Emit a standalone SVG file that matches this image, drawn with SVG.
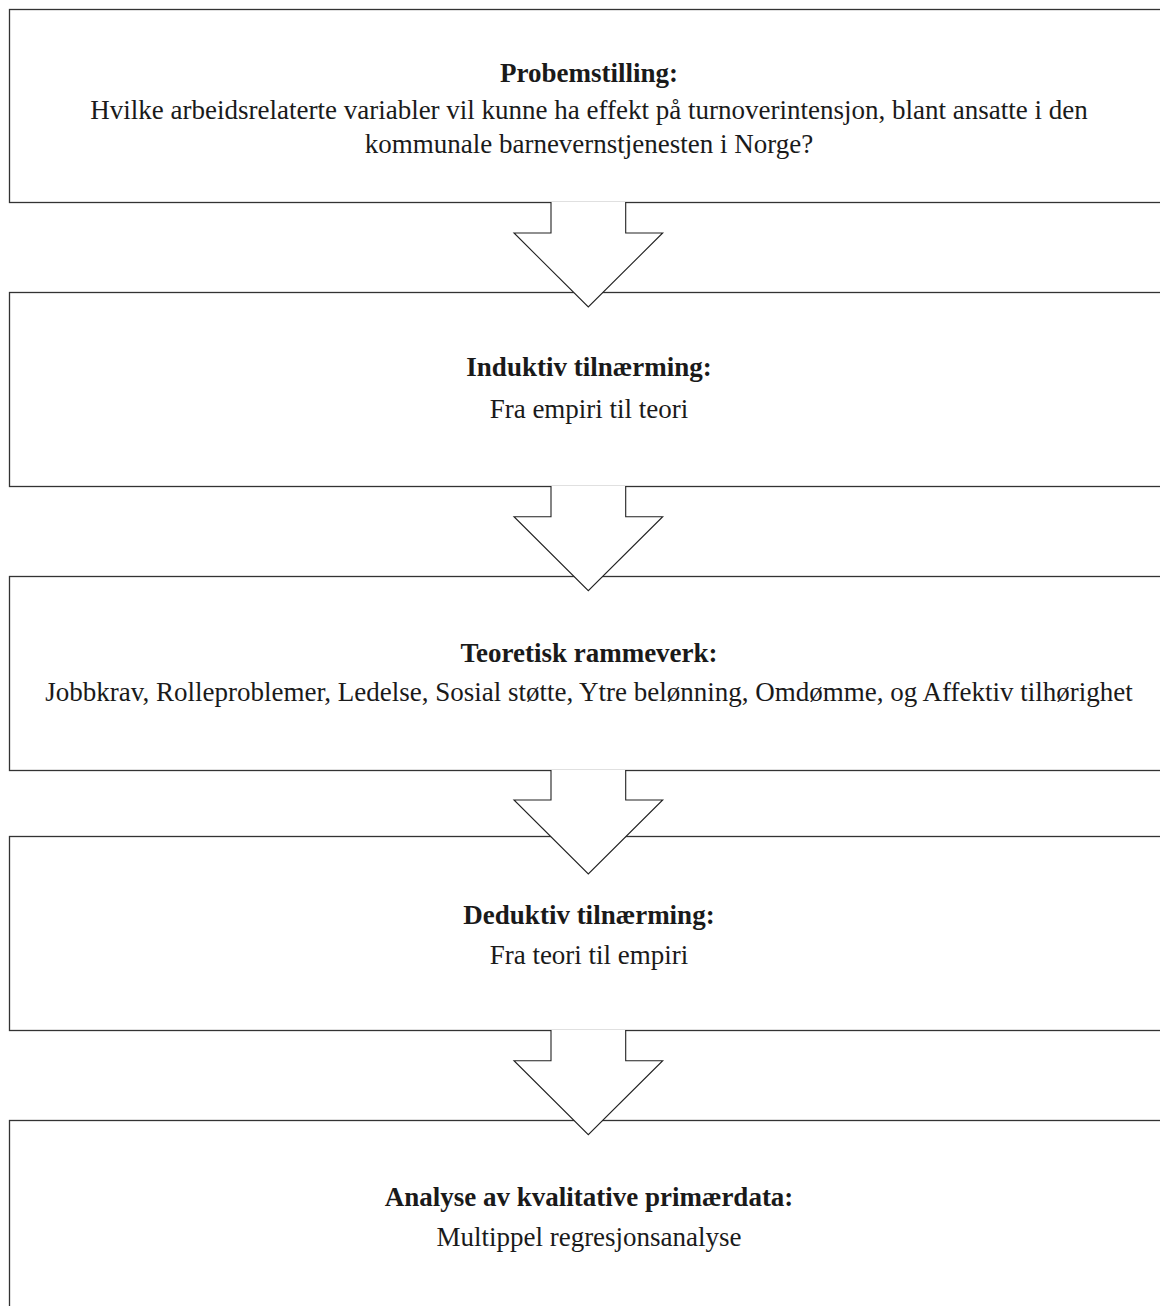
<svg xmlns="http://www.w3.org/2000/svg" width="1160" height="1306" viewBox="0 0 1160 1306">
  <style>
    .box { fill: #ffffff; stroke: #333333; stroke-width: 1.3; }
    .flow { fill: #ffffff; stroke: #222222; stroke-width: 1.1; stroke-linejoin: miter; }
    text { font-family: "Liberation Serif", "Times New Roman", serif; font-size: 27px; fill: #1a1a1a; text-anchor: middle; }
    .head { font-weight: bold; }
  </style>
  <rect x="0" y="0" width="1160" height="1306" fill="#ffffff"/>

  <!-- process steps -->
  <g id="step-problem">
    <rect class="box" x="9.5" y="9.5" width="1170" height="193"/>
    <text class="head" x="589" y="82">Probemstilling:</text>
    <text x="589" y="119">Hvilke arbeidsrelaterte variabler vil kunne ha effekt på turnoverintensjon, blant ansatte i den</text>
    <text x="589" y="153">kommunale barnevernstjenesten i Norge?</text>
  </g>
  <g id="step-induktiv">
    <rect class="box" x="9.5" y="292.5" width="1170" height="194"/>
    <text class="head" x="589" y="376">Induktiv tilnærming:</text>
    <text x="589" y="418">Fra empiri til teori</text>
  </g>
  <g id="step-teori">
    <rect class="box" x="9.5" y="576.5" width="1170" height="194"/>
    <text class="head" x="589" y="662">Teoretisk rammeverk:</text>
    <text x="589" y="701">Jobbkrav, Rolleproblemer, Ledelse, Sosial støtte, Ytre belønning, Omdømme, og Affektiv tilhørighet</text>
  </g>
  <g id="step-deduktiv">
    <rect class="box" x="9.5" y="836.5" width="1170" height="194"/>
    <text class="head" x="589" y="924">Deduktiv tilnærming:</text>
    <text x="589" y="964">Fra teori til empiri</text>
  </g>
  <g id="step-analyse">
    <rect class="box" x="9.5" y="1120.5" width="1170" height="200"/>
    <text class="head" x="589" y="1206">Analyse av kvalitative primærdata:</text>
    <text x="589" y="1246">Multippel regresjonsanalyse</text>
  </g>

  <!-- block arrows between steps (open at the top so they merge into the box above) -->
  <g id="connectors">
    <path class="flow" d="M551,202 V233 H514 L588.3,307 L662.7,233 H625.7 V202"/>
    <path class="flow" d="M551,486 V516.7 H514 L588.3,590.7 L662.7,516.7 H625.7 V486"/>
    <path class="flow" d="M551,770 V800 H514 L588.3,874 L662.7,800 H625.7 V770"/>
    <path class="flow" d="M551,1030 V1060.7 H514 L588.3,1134.7 L662.7,1060.7 H625.7 V1030"/>
  </g>
</svg>
